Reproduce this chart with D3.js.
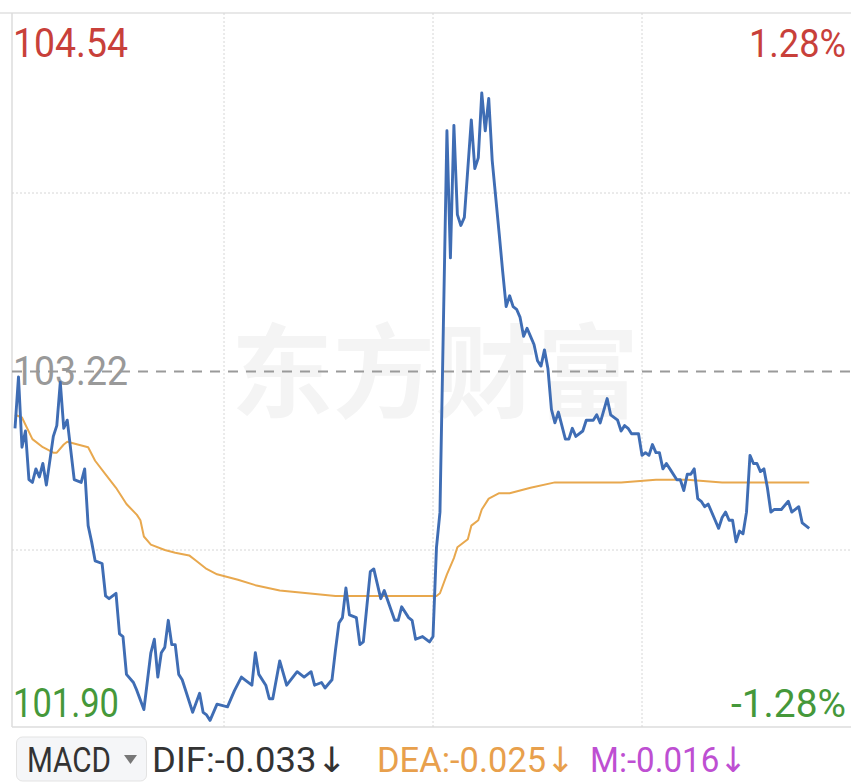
<!DOCTYPE html>
<html><head><meta charset="utf-8">
<script src="https://cdn.jsdelivr.net/npm/d3@7"></script>
<style>html,body{margin:0;padding:0;background:#fff;}svg{display:block;}</style>
</head><body>
<svg id="chart" width="851" height="783"></svg>
<script>
// ---- data ----
const priceMinutes = [0,1,2,3,4,5,6,7,8,9,11,12,13,14,15,17,19,20,21,22,23,25,26,27,29,30,31,32,34,35,37,39,40,41,42,43,44,45,46,47,48,51,53,54,55,56,58,61,63,65,66,68,69,70,72,73,74,76,78,81,83,85,86,88,89,91,92,93,94,95,96,98,99,100,102,103,105,106,109,110,111,113,114,115,117,119,120,121,122,124,125,126,127,128,129,131,132,133,134,135,136,137,139,140,141,142,143,144,145,146,147,148,149,150,151,152,153,154,155,156,157,158,159,160,161,163,164,166,167,168,170,171,173,174,175,176,177,179,180,181,182,183,184,185,186,187,188,190,191,192,193,194,195,196,197,198,199,201,202,203,204,205,206,207,208,209,210,211,212,213,214,215,216,217,218,219,220,222,223,225,226,228];
const priceValues = [103.01,103.20,102.94,103.00,102.82,102.81,102.86,102.83,102.88,102.80,102.98,103.02,103.18,103.01,103.04,102.82,102.81,102.86,102.65,102.59,102.52,102.51,102.39,102.38,102.40,102.25,102.24,102.10,102.07,102.04,101.97,102.18,102.23,102.09,102.18,102.20,102.30,102.21,102.21,102.10,102.08,101.96,102.03,101.96,101.95,101.93,101.99,101.98,102.04,102.09,102.08,102.06,102.18,102.10,102.06,102.01,102.01,102.15,102.06,102.11,102.09,102.11,102.06,102.07,102.05,102.08,102.19,102.29,102.31,102.42,102.32,102.31,102.21,102.22,102.48,102.49,102.38,102.41,102.30,102.30,102.35,102.31,102.30,102.23,102.24,102.22,102.24,102.57,102.70,104.11,103.64,104.13,103.80,103.76,103.79,104.15,103.97,104.01,104.25,104.11,104.23,104.00,103.73,103.59,103.46,103.50,103.46,103.45,103.42,103.35,103.38,103.35,103.32,103.26,103.24,103.30,103.23,103.08,103.03,103.07,103.02,102.97,102.97,103.01,102.98,103.00,103.04,103.04,103.06,103.03,103.12,103.06,103.04,103.00,103.02,103.01,102.99,102.99,102.91,102.92,102.91,102.95,102.92,102.92,102.86,102.88,102.86,102.82,102.82,102.78,102.84,102.84,102.86,102.75,102.74,102.72,102.73,102.67,102.64,102.68,102.70,102.67,102.67,102.59,102.63,102.62,102.70,102.91,102.88,102.88,102.85,102.86,102.79,102.70,102.71,102.71,102.71,102.74,102.70,102.72,102.66,102.64];
const avgMinutes = [0,2,5,8,11,12,14,15,18,21,23,26,29,32,35,36,37,39,43,46,50,52,55,58,61,64,69,76,84,92,102,111,121,122,124,126,127,130,131,133,134,136,139,142,145,148,155,165,174,184,193,203,212,222,228];
const avgValues = [103.06,103.05,102.97,102.94,102.92,102.92,102.95,102.96,102.95,102.94,102.89,102.84,102.79,102.73,102.69,102.67,102.61,102.58,102.56,102.55,102.54,102.52,102.49,102.47,102.46,102.45,102.43,102.41,102.40,102.39,102.39,102.39,102.39,102.40,102.47,102.53,102.57,102.60,102.65,102.67,102.71,102.75,102.77,102.77,102.78,102.79,102.81,102.81,102.81,102.82,102.82,102.81,102.81,102.81,102.81];
const priceMin = 101.90, priceMax = 104.54, preClose = 103.22;
const pctMaxLabel = "1.28%", pctMinLabel = "-1.28%";
const gridMinutes = [60, 120, 180];
const gridPrices = [102.56, 103.88];
const legendItems = [
  {text: "DIF:-0.033\u2193", color: "#333333"},
  {text: "DEA:-0.025\u2193", color: "#e8a04c"},
  {text: "M:-0.016\u2193", color: "#be4fd2"}
];
const watermark = "东方财富";

// ---- drawing ----
const svg = d3.select("#chart");
const L = 12, R = 851, T = 13, B = 727;
const x = d3.scaleLinear().domain([0, 240]).range([15, 851]);
const y = d3.scaleLinear().domain([priceMin, priceMax]).range([728.5, 14.5]);
const font = "Roboto, 'Noto Sans', 'DejaVu Sans', sans-serif";

// watermark
svg.append("text").attr("x", 231).attr("y", 410)
  .attr("font-family", "'Noto Sans CJK SC', sans-serif").attr("font-weight", 700)
  .attr("font-size", 102).attr("fill", "#f4f4f4").text(watermark);

// frame
svg.append("line").attr("x1", 0).attr("x2", R).attr("y1", T).attr("y2", T).attr("stroke", "#e0e0e0").attr("stroke-width", 1.5);
svg.append("line").attr("x1", L).attr("x2", L).attr("y1", T).attr("y2", B).attr("stroke", "#dddddd").attr("stroke-width", 1.5);
svg.append("line").attr("x1", L).attr("x2", R).attr("y1", B).attr("y2", B).attr("stroke", "#dddddd").attr("stroke-width", 1.5);

// grid
svg.selectAll(".vg").data(gridMinutes).enter().append("line")
  .attr("x1", d => x(d)).attr("x2", d => x(d)).attr("y1", T).attr("y2", B)
  .attr("stroke", "#d6d6d6").attr("stroke-width", 1).attr("stroke-dasharray", "2,2");
svg.selectAll(".hg").data(gridPrices).enter().append("line")
  .attr("x1", L).attr("x2", R).attr("y1", d => y(d)).attr("y2", d => y(d))
  .attr("stroke", "#d6d6d6").attr("stroke-width", 1).attr("stroke-dasharray", "2,2");

// axis labels
function label(txt, xx, yy, anchor, color, size, len) {
  svg.append("text").attr("x", xx).attr("y", yy).attr("text-anchor", anchor)
    .attr("font-family", font).attr("font-size", size).attr("fill", color)
    .attr("textLength", len).attr("lengthAdjust", "spacingAndGlyphs").text(txt);
}
label(priceMax.toFixed(2), 13, 57, "start", "#c8403a", 41, 115);
label(pctMaxLabel, 846, 57, "end", "#c8403a", 38, 97);
label(preClose.toFixed(2), 13, 385, "start", "#999999", 41, 115);
label(priceMin.toFixed(2), 13, 717, "start", "#45983a", 41, 106);
label(pctMinLabel, 846, 717, "end", "#45983a", 39, 115);

// pre-close dashed line
svg.append("line").attr("x1", L).attr("x2", R).attr("y1", y(preClose)).attr("y2", y(preClose))
  .attr("stroke", "#9a9a9a").attr("stroke-width", 2).attr("stroke-dasharray", "10,8");

// lines
const avgData = avgMinutes.map((m, i) => [m, avgValues[i]]);
const priceData = priceMinutes.map((m, i) => [m, priceValues[i]]);
const line = d3.line().x(d => x(d[0])).y(d => y(d[1]));
svg.append("path").attr("d", line(avgData)).attr("fill", "none")
  .attr("stroke", "#e8a84e").attr("stroke-width", 2).attr("stroke-linejoin", "round");
svg.append("path").attr("d", line(priceData)).attr("fill", "none")
  .attr("stroke", "#3f6db4").attr("stroke-width", 2.9).attr("stroke-linejoin", "round");

// legend
svg.append("rect").attr("x", 16.5).attr("y", 737).attr("width", 130).attr("height", 44).attr("rx", 6)
  .attr("fill", "#f5f6f8").attr("stroke", "#e3e3e3").attr("stroke-width", 1);
svg.append("text").attr("x", 27).attr("y", 772).attr("font-family", font).attr("font-size", 35)
  .attr("fill", "#333").attr("textLength", 84).attr("lengthAdjust", "spacingAndGlyphs").text("MACD");
svg.append("path").attr("d", "M124,755 L137,755 L130.5,764 Z").attr("fill", "#777");
const legX = [152, 377, 590], legLen = [195, 198, 157];
legendItems.forEach((d, i) => {
  svg.append("text").attr("x", legX[i]).attr("y", 772).attr("font-family", font).attr("font-size", 35)
    .attr("fill", d.color).attr("textLength", legLen[i]).attr("lengthAdjust", "spacingAndGlyphs").text(d.text);
});
</script>
</body></html>
